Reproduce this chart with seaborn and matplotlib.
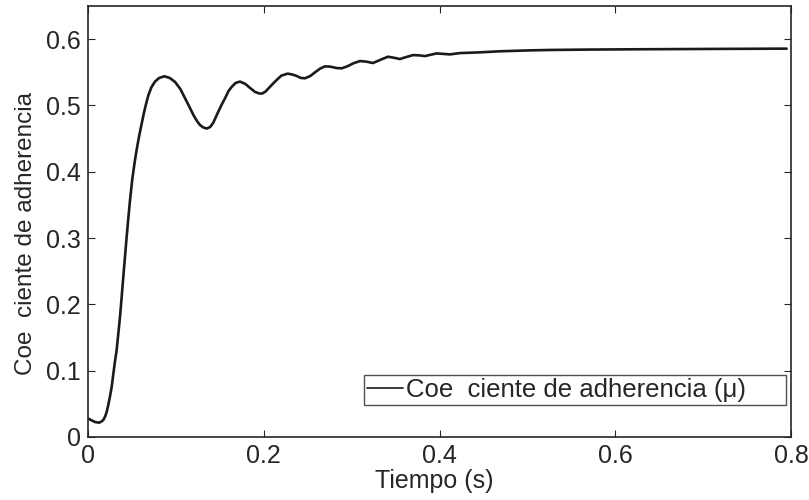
import matplotlib
matplotlib.use("Agg")
import matplotlib.pyplot as plt
import seaborn as sns
import pandas as pd

# ---- data ----
tiempo = [0.000, 0.004, 0.008, 0.0125, 0.0155, 0.0174, 0.0195, 0.0213, 0.023, 0.025,
          0.027, 0.0288, 0.0307, 0.0326, 0.0345, 0.0364, 0.0383, 0.0402, 0.0421, 0.0440,
          0.0459, 0.0478, 0.0505, 0.0535, 0.0560, 0.0585, 0.0610, 0.0635, 0.0660, 0.0686,
          0.0720, 0.0762, 0.0810, 0.0870, 0.0930, 0.0990, 0.1050, 0.1100, 0.1150, 0.1198,
          0.1240, 0.1274, 0.1310, 0.1350, 0.1390, 0.1426, 0.1470, 0.1520, 0.1560, 0.1600,
          0.1635, 0.1680, 0.1730, 0.1790, 0.1843, 0.1900, 0.1950, 0.1983, 0.2020, 0.2070,
          0.2128, 0.2200, 0.2273, 0.2330, 0.2375, 0.2420, 0.2470, 0.2530, 0.2584, 0.2640,
          0.2697, 0.2760, 0.2825, 0.2887, 0.2950, 0.3020, 0.3095, 0.3170, 0.3243, 0.3330,
          0.3413, 0.3480, 0.3550, 0.3620, 0.3700, 0.3770, 0.3835, 0.3967, 0.4120, 0.4233,
          0.4440, 0.4688, 0.5000, 0.5257, 0.5700, 0.6200, 0.7000, 0.7950]
coef = [0.0280, 0.0252, 0.0226, 0.0216, 0.0235, 0.0256, 0.0310, 0.0380, 0.0480, 0.0610,
        0.0760, 0.0950, 0.1140, 0.1310, 0.1560, 0.1810, 0.2110, 0.2420, 0.2720, 0.3020,
        0.3300, 0.3570, 0.3900, 0.4180, 0.4380, 0.4560, 0.4720, 0.4880, 0.5020, 0.5150,
        0.5270, 0.5360, 0.5415, 0.5440, 0.5415, 0.5355, 0.5250, 0.5120, 0.4990, 0.4860,
        0.4765, 0.4706, 0.4670, 0.4652, 0.4675, 0.4740, 0.4870, 0.5010, 0.5110, 0.5220,
        0.5280, 0.5340, 0.5360, 0.5325, 0.5265, 0.5205, 0.5180, 0.5180, 0.5210, 0.5280,
        0.5360, 0.5450, 0.5480, 0.5465, 0.5445, 0.5415, 0.5410, 0.5445, 0.5500, 0.5555,
        0.5590, 0.5585, 0.5565, 0.5560, 0.5590, 0.5636, 0.5670, 0.5660, 0.5640, 0.5690,
        0.5735, 0.5720, 0.5700, 0.5730, 0.5760, 0.5755, 0.5745, 0.5785, 0.5770, 0.5790,
        0.5800, 0.5817, 0.5830, 0.5837, 0.5843, 0.5847, 0.5852, 0.5857]

x_ticks = [0, 0.2, 0.4, 0.6, 0.8]
x_tick_labels = ["0", "0.2", "0.4", "0.6", "0.8"]
y_ticks = [0, 0.1, 0.2, 0.3, 0.4, 0.5, 0.6]
y_tick_labels = ["0", "0.1", "0.2", "0.3", "0.4", "0.5", "0.6"]

serie = "Coe  ciente de adherencia (μ)"
xlabel = "Tiempo (s)"
ylabel = "Coe  ciente de adherencia"

df = pd.DataFrame({"t": tiempo, "mu": coef})

sns.set_theme(style="ticks")
plt.rcParams["font.family"] = ["Liberation Sans", "DejaVu Sans"]
txt = "#262626"

fig = plt.figure(figsize=(8.09, 5.0), dpi=100)
ax = fig.add_axes([88 / 809, 63 / 500, 703 / 809, 431 / 500])

sns.lineplot(data=df, x="t", y="mu", ax=ax, color="#1a1a1a", linewidth=1.9,
             estimator=None, sort=False, label=serie)

ax.set_xlim(0, 0.8)
ax.set_ylim(0, 0.65)
ax.set_xticks(x_ticks)
ax.set_xticklabels(x_tick_labels)
ax.set_yticks(y_ticks)
ax.set_yticklabels(y_tick_labels)
ax.tick_params(direction="in", length=5, width=0.8, top=True, right=True,
               labelsize=18, colors=txt, pad=5)
for s in ax.spines.values():
    s.set_visible(True)
    s.set_linewidth(1.2)
    s.set_color("#262626")

ax.set_xlabel(xlabel, fontsize=18, color=txt)
ax.set_ylabel(ylabel, fontsize=17.5, color=txt)
ax.xaxis.set_label_coords(0.492, -0.075)
ax.yaxis.set_label_coords(-0.072, 0.473)

leg = ax.legend(loc="lower left", bbox_to_anchor=(0.3926, 0.0742, 0.6003, 0.0789),
                mode="expand", fontsize=18.5, frameon=True, fancybox=False,
                shadow=False, borderaxespad=0, handlelength=1.4,
                handletextpad=0.12, borderpad=0.12)
leg.get_frame().set_edgecolor("#262626")
leg.get_frame().set_linewidth(1.0)
for t in leg.get_texts():
    t.set_color(txt)
for l in leg.get_lines():
    l.set_linewidth(1.2)

fig.savefig("out.png", dpi=100)
